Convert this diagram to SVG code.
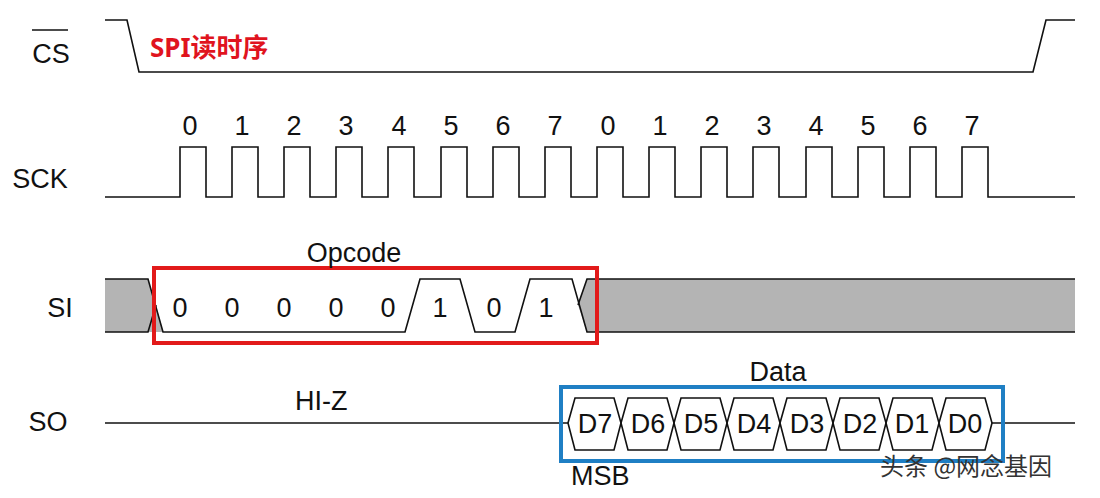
<svg xmlns="http://www.w3.org/2000/svg" width="1100" height="498" viewBox="0 0 1100 498">
<style>
.w{fill:none;stroke:#111;stroke-width:1.6}
.t{font-family:"Liberation Sans",Arial,sans-serif;font-size:27px;fill:#111}
.c{text-anchor:middle}
</style>
<rect width="1100" height="498" fill="#fff"/>
<g id="labels">
<text class="t c" x="51" y="63">CS</text>
<line x1="32" y1="30" x2="68" y2="30" stroke="#111" stroke-width="1.6"/>
<text class="t c" x="40" y="188">SCK</text>
<text class="t c" x="60" y="317">SI</text>
<text class="t c" x="48" y="431">SO</text>
</g>
<g id="title"><text x="150" y="57" style="font-family:'Noto Sans','Noto Sans CJK SC',sans-serif;font-size:26px;font-weight:bold;fill:#e0141e">SPI读时序</text></g>
<g id="cs"><polyline class="w" points="105,20 127,20 139,72 1033,72 1046,20 1075,20"/></g>
<g id="sck">
<polyline class="w" points="105,197 180,197 180,147 206,147 206,197 232,197 232,147 258,147 258,197 284,197 284,147 310,147 310,197 336,197 336,147 362,147 362,197 388,197 388,147 414,147 414,197 441,197 441,147 467,147 467,197 493,197 493,147 519,147 519,197 545,197 545,147 571,147 571,197 597,197 597,147 623,147 623,197 649,197 649,147 675,147 675,197 701,197 701,147 727,147 727,197 753,197 753,147 779,147 779,197 806,197 806,147 832,147 832,197 858,197 858,147 884,147 884,197 910,197 910,147 936,147 936,197 962,197 962,147 988,147 988,197 1075,197"/>
<g class="t c" font-size="25">
<text x="190" y="135">0</text><text x="242" y="135">1</text><text x="294" y="135">2</text><text x="346" y="135">3</text>
<text x="399" y="135">4</text><text x="451" y="135">5</text><text x="503" y="135">6</text><text x="555" y="135">7</text>
<text x="608" y="135">0</text><text x="660" y="135">1</text><text x="712" y="135">2</text><text x="764" y="135">3</text>
<text x="816" y="135">4</text><text x="868" y="135">5</text><text x="920" y="135">6</text><text x="972" y="135">7</text>
</g>
</g>
<g id="si">
<polygon points="105,279 148,279 156,305 163,332 105,332" fill="#b4b4b4"/>
<polygon points="1075,279 587,279 578,305 587,332 1075,332" fill="#b4b4b4"/>
<polyline class="w" points="105,279 148,279 163,332 405,332 420,279 460,279 475,332 515,332 530,279 572,279 587,332 1075,332"/>
<polyline class="w" points="105,332 148,332 156,305"/>
<polyline class="w" points="1075,279 587,279 578,305"/>
<g class="t c" font-size="25">
<text x="180" y="317">0</text><text x="232" y="317">0</text><text x="284" y="317">0</text><text x="336" y="317">0</text><text x="388" y="317">0</text>
<text x="440" y="317">1</text><text x="494" y="317">0</text><text x="546" y="317">1</text>
</g>
<rect x="154" y="268" width="443" height="75" fill="none" stroke="#e21a1a" stroke-width="4"/>
<text class="t c" x="354" y="262" font-size="25">Opcode</text>
</g>
<g id="so">
<line class="w" x1="105" y1="423" x2="568" y2="423"/>
<line class="w" x1="992" y1="423" x2="1075" y2="423"/>
<g class="w">
<polygon points="568,423 575,398 614,398 621,423 614,450 575,450"/>
<polygon points="621,423 628,398 667,398 674,423 667,450 628,450"/>
<polygon points="674,423 681,398 720,398 727,423 720,450 681,450"/>
<polygon points="727,423 734,398 773,398 780,423 773,450 734,450"/>
<polygon points="780,423 787,398 826,398 833,423 826,450 787,450"/>
<polygon points="833,423 840,398 879,398 886,423 879,450 840,450"/>
<polygon points="886,423 893,398 932,398 939,423 932,450 893,450"/>
<polygon points="939,423 946,398 985,398 992,423 985,450 946,450"/>
</g>
<g class="t c" font-size="24">
<text x="595" y="433">D7</text><text x="648" y="433">D6</text><text x="701" y="433">D5</text><text x="754" y="433">D4</text>
<text x="807" y="433">D3</text><text x="860" y="433">D2</text><text x="912" y="433">D1</text><text x="965" y="433">D0</text>
</g>
<rect x="561" y="387" width="442" height="74" fill="none" stroke="#1f7fc4" stroke-width="4"/>
<text class="t c" x="778" y="381" font-size="25">Data</text>
<text class="t" x="295" y="410" font-size="25">HI-Z</text>
<text class="t" x="571" y="485" font-size="25">MSB</text>
</g>
<text x="880" y="475" style="font-family:'Noto Sans CJK SC',sans-serif;font-size:24px;fill:#333">头条 @网念基因</text>
</svg>
